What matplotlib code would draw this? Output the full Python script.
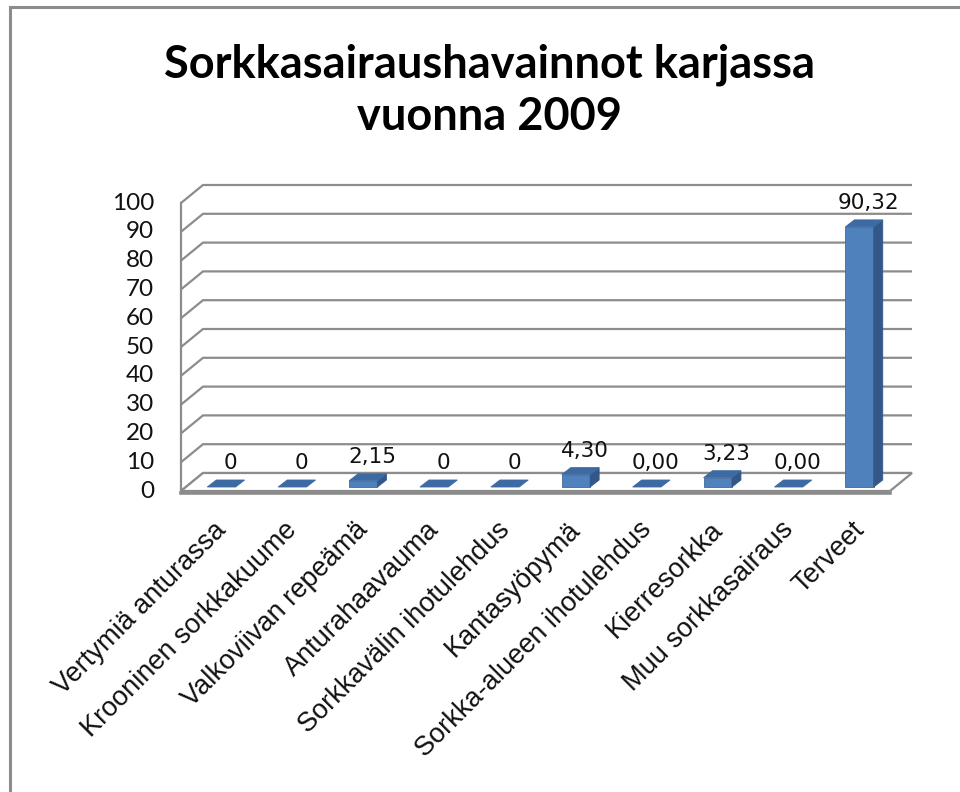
import numpy as np
import matplotlib as mpl
mpl.use('Agg')
from matplotlib import pyplot as plt
from matplotlib import transforms as mtransforms
from matplotlib.patches import Polygon, Rectangle

# data
categories = ['Vertymiä anturassa', 'Krooninen sorkkakuume', 'Valkoviivan repeämä',
              'Anturahaavauma', 'Sorkkavälin ihotulehdus', 'Kantasyöpymä',
              'Sorkka-alueen ihotulehdus', 'Kierresorkka', 'Muu sorkkasairaus', 'Terveet']
values = [0, 0, 2.15, 0, 0, 4.30, 0.00, 3.23, 0.00, 90.32]
value_labels = ['0', '0', '2,15', '0', '0', '4,30', '0,00', '3,23', '0,00', '90,32']
yticks = np.arange(0, 101, 10)
title = 'Sorkkasairaushavainnot karjassa\nvuonna 2009'

W, H, DPI = 960, 792, 100
fig = plt.figure(figsize=(W / DPI, H / DPI), dpi=DPI)

# front plane of the 3d chart, in pixels
xL, xR, y0, y100 = 181, 890, 491, 203
ax = fig.add_axes([xL / W, (H - y0) / H, (xR - xL) / W, (y0 - y100) / H])
ax.set_xlim(-0.5, 9.5)
ax.set_ylim(0, 100)
ax.axis('off')

def shift(dx, dy):
    # pixel offset (right, up) on top of data coords
    return ax.transData + mtransforms.ScaledTranslation(dx / DPI, dy / DPI, fig.dpi_scale_trans)

grid_c = '#8c8c8c'
back = shift(22, 18)
inv = ax.transData.inverted()

# gridlines: slanted side wall piece + back wall line
for t in yticks:
    p0 = ax.transData.transform((-0.5, t))
    p1 = back.transform((-0.5, t))
    p2 = back.transform((9.5, t))
    pts = inv.transform(np.array([p0, p1, p2]))
    ax.plot(pts[:, 0], pts[:, 1], color=grid_c, lw=1.6, clip_on=False, zorder=1,
            solid_capstyle='butt')
    ax.text(-0.5, t, str(t), transform=shift(-27, 0), ha='right', va='center',
            fontsize=17.5, family='Lato', color='#111111')

# left vertical axis line
ax.plot([-0.5, -0.5], [0, 100], color=grid_c, lw=1.6, clip_on=False, zorder=1)

# floor
fl = [ax.transData.transform((-0.5, 0)), ax.transData.transform((9.5, 0)),
      back.transform((9.5, 0)), back.transform((-0.5, 0))]
floor = Polygon(inv.transform(np.array(fl)), closed=True, facecolor='white',
                edgecolor=grid_c, lw=1.6, clip_on=False, zorder=2)
ax.add_patch(floor)
ax.plot([-0.5, 9.5], [0, 0], color=grid_c, lw=2.6, clip_on=False, zorder=2,
        transform=shift(0, -1.5))

# bars with fake depth
front_c, top_c, side_c = '#4f81bd', '#3d6aa2', '#34578a'
bw = 0.40
bf = shift(5, 4)
bb = shift(14, 11)
for i, v in enumerate(values):
    xa, xb = i - bw / 2, i + bw / 2
    fa = bf.transform((xa, 0)); fb = bf.transform((xb, 0))
    fc = bf.transform((xb, v)); fd = bf.transform((xa, v))
    ba = bb.transform((xa, v)); bbb = bb.transform((xb, v))
    bc = bb.transform((xb, 0))
    face = inv.transform(np.array([fa, fb, fc, fd]))
    top = inv.transform(np.array([fd, fc, bbb, ba]))
    side = inv.transform(np.array([fb, bc, bbb, fc]))
    if v > 0:
        ax.add_patch(Polygon(face, closed=True, facecolor=front_c, edgecolor='#41699a',
                             lw=0.6, clip_on=False, zorder=4))
        ax.add_patch(Polygon(side, closed=True, facecolor=side_c, edgecolor=side_c,
                             lw=0.6, clip_on=False, zorder=4))
    ax.add_patch(Polygon(top, closed=True, facecolor=top_c, edgecolor=top_c,
                         lw=0.6, clip_on=False, zorder=5))
    ax.text(i, v, value_labels[i], transform=shift(14, 18), ha='center', va='bottom',
            fontsize=15.5, family='DejaVu Sans', color='#111111', zorder=6)

# category labels
for i, c in enumerate(categories):
    ax.text(i, 0, c, transform=shift(6, -35), rotation=45, rotation_mode='anchor',
            ha='right', va='center', fontsize=19.5, family='Liberation Sans',
            color='#111111')

# title
fig.text(490 / W, 1 - 91 / H, title, ha='center', va='center', fontsize=32.5,
         family='Lato', fontweight='bold', linespacing=1.3)

# outer chart border (continues past the right/bottom edge)
fig.patches.append(Rectangle((10 / W, -0.1), 1.2, 1 - 7 / H + 0.1,
                             transform=fig.transFigure, fill=False,
                             edgecolor='#8c8c8c', lw=2.2, figure=fig))

fig.savefig('out.png', dpi=DPI, facecolor='white')
plt.close(fig)
